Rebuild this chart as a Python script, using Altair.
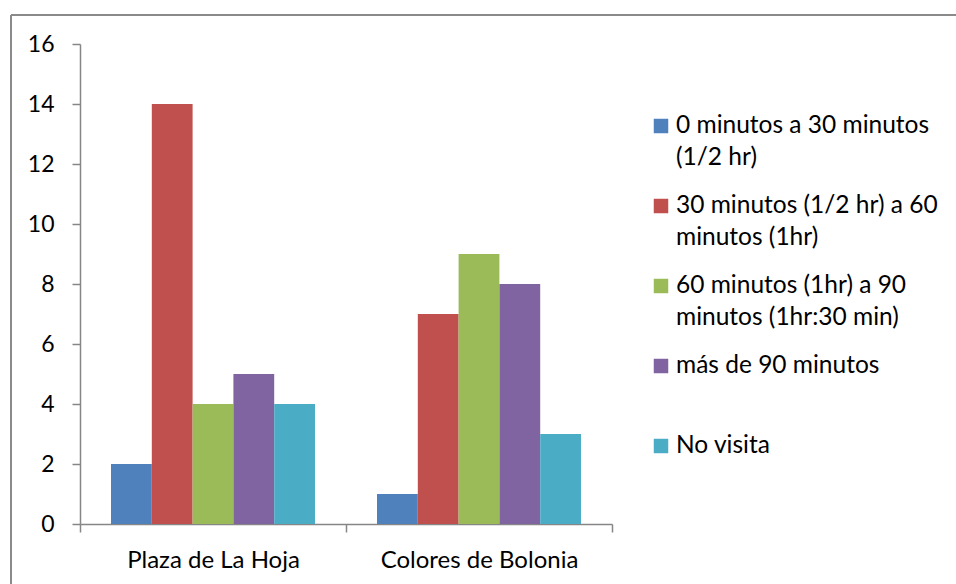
import altair as alt
import pandas as pd

# Categories, series and counts
lugares = ["Plaza de La Hoja", "Colores de Bolonia"]
series = [
    "0 minutos a 30 minutos (1/2 hr)",
    "30 minutos (1/2 hr) a 60 minutos (1hr)",
    "60 minutos (1hr) a 90 minutos (1hr:30 min)",
    "más de 90 minutos",
    "No visita",
]
# Legend label lines for each series
legend_lines = [
    ["0 minutos a 30 minutos", "(1/2 hr)"],
    ["30 minutos (1/2 hr) a 60", "minutos (1hr)"],
    ["60 minutos (1hr) a 90", "minutos (1hr:30 min)"],
    ["más de 90 minutos"],
    ["No visita"],
]
plaza_values = [2, 14, 4, 5, 4]
bolonia_values = [1, 7, 9, 8, 3]
colores = ["#4F81BD", "#C0504D", "#9BBB59", "#8064A2", "#4BACC6"]
y_ticks = [0, 2, 4, 6, 8, 10, 12, 14, 16]

rows = []
for lugar, vals in zip(lugares, [plaza_values, bolonia_values]):
    for s, v in zip(series, vals):
        rows.append({"lugar": lugar, "serie": s, "valor": v})
df = pd.DataFrame(rows)

leg_rows = []
for k, (s, lines) in enumerate(zip(series, legend_lines)):
    for j, txt in enumerate(lines):
        leg_rows.append({"serie": s, "entrada": k, "linea": j, "texto": txt})
df_leg = pd.DataFrame(leg_rows)

FONT = "Lato"
GRAY = "#868686"
color_scale = alt.Scale(domain=series, range=colores)

bars = alt.Chart(df).mark_bar().encode(
    x=alt.X(
        "lugar:N",
        sort=lugares,
        scale=alt.Scale(paddingInner=0, paddingOuter=0),
        axis=alt.Axis(
            title=None,
            labelAngle=0,
            tickBand="extent",
            tickSize=8,
            labelPadding=16,
            labelBaseline="top",
            labelFontSize=24,
            labelLimit=0,
        ),
    ),
    xOffset=alt.XOffset(
        "serie:N",
        sort=series,
        scale=alt.Scale(paddingInner=0, paddingOuter=0.76),
    ),
    y=alt.Y(
        "valor:Q",
        scale=alt.Scale(domain=[0, 16], nice=False),
        axis=alt.Axis(
            title=None,
            values=y_ticks,
            grid=False,
            tickSize=8,
            labelPadding=18,
            labelFontSize=23,
        ),
    ),
    color=alt.Color("serie:N", sort=series, scale=color_scale, legend=None),
)

# Legend: one text line per row; entries 2.5 line-steps apart
legend_y = alt.Y(
    "pos:Q",
    scale=alt.Scale(domain=[-2.78125, 12.21875], reverse=True, nice=False, zero=False),
    axis=None,
)
legend_base = alt.Chart(df_leg).transform_calculate(
    pos="datum.entrada * 2.5 + datum.linea"
)
legend_text = legend_base.mark_text(
    align="left", baseline="alphabetic", font=FONT, fontSize=24.5, color="#000000"
).encode(x=alt.value(596), y=legend_y, text="texto:N")
legend_sym = (
    legend_base.transform_filter("datum.linea == 0")
    .mark_square(size=210, opacity=1, yOffset=-7)
    .encode(
        x=alt.value(581),
        y=legend_y,
        color=alt.Color("serie:N", sort=series, scale=color_scale, legend=None),
    )
)

# Chart frame lines (top and left edges)
frame = alt.Chart(alt.Data(values=[{"k": 0}])).mark_rule(
    color="#8a8a8a", strokeWidth=2
)
frame_top = frame.encode(x=alt.value(-69), x2=alt.value(900), y=alt.value(-29))
frame_left = frame.encode(x=alt.value(-69), y=alt.value(-29), y2=alt.value(560))

chart = (
    alt.layer(bars, legend_sym, legend_text, frame_top, frame_left)
    .resolve_scale(y="independent")
    .properties(
        width=532,
        height=480,
        padding={"left": 80, "top": 44, "right": 344, "bottom": 60},
        autosize=alt.AutoSizeParams(type="none"),
        background="white",
    )
    .configure_view(strokeOpacity=0)
    .configure_axis(
        labelFont=FONT,
        labelColor="#000000",
        domainColor=GRAY,
        domainWidth=1.5,
        tickColor=GRAY,
        tickWidth=1.5,
    )
)

chart.save("out.html", embed_options={"renderer": "svg", "actions": False})
